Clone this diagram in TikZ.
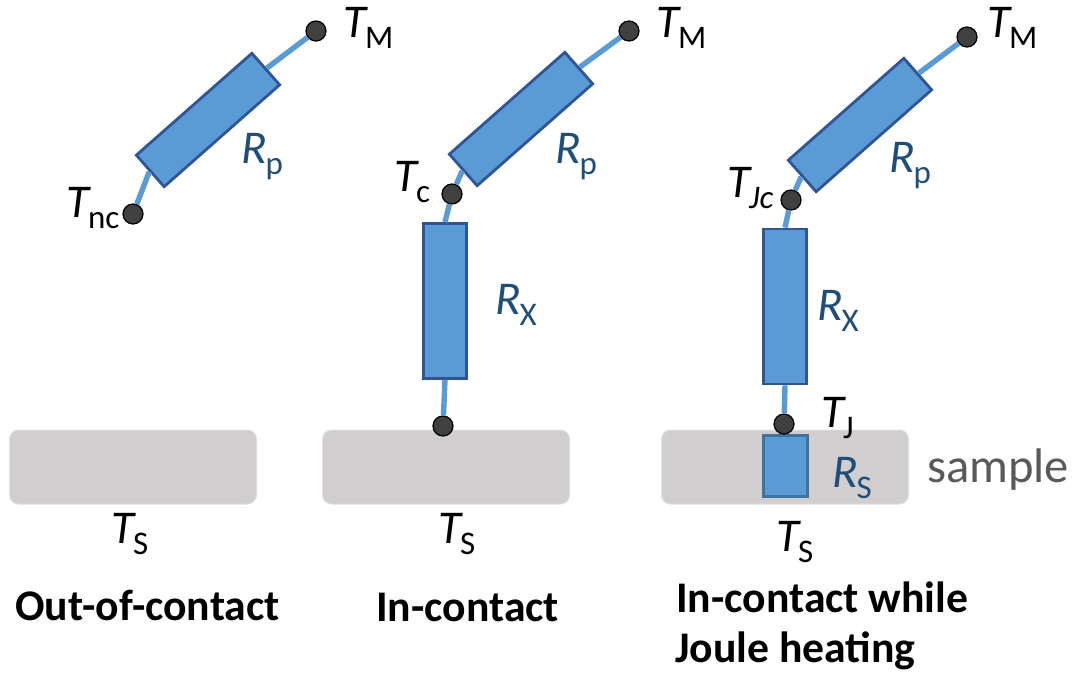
\documentclass[tikz,border=0pt]{standalone}
\usepackage{fontspec}
\setmainfont{Carlito}
\usetikzlibrary{calc}
\definecolor{fillblue}{HTML}{5B9BD5}
\definecolor{edgeblue}{HTML}{2F5597}
\definecolor{edgesteel}{HTML}{41719C}
\definecolor{labelblue}{HTML}{1F4E79}
\definecolor{samplegrey}{HTML}{D0CECE}
\definecolor{samplelabel}{HTML}{595959}
\definecolor{dotgrey}{HTML}{404040}
\newcommand{\qty}[3]{{\fontsize{47}{47}\selectfont\itshape #1}\kern-1pt\raisebox{-11pt}{\fontsize{33}{33}\selectfont #2}}
\tikzset{
  x=1pt,y=-1pt,
  angled/.style={draw=edgeblue,fill=fillblue,line width=2.8pt,minimum width=154pt,minimum height=42pt,rotate=41.4,inner sep=0pt},
  upright/.style={draw=edgeblue,fill=fillblue,line width=2.8pt,minimum width=43pt,minimum height=155pt,inner sep=0pt},
  samplebox/.style={draw=black!12,fill=samplegrey,line width=1pt,rounded corners=9pt,minimum width=247pt,minimum height=74pt,inner sep=0pt},
  spot/.style={circle,draw=black,fill=dotgrey,line width=1.2pt,minimum size=20pt,inner sep=0pt},
  wire/.style={draw=fillblue,line width=5.4pt},
  lab/.style={anchor=base west,inner sep=0pt,text=black},
  rlab/.style={anchor=base west,inner sep=0pt,text=labelblue},
  head/.style={anchor=base west,inner sep=0pt,font=\fontsize{43.7}{44}\selectfont\bfseries},
}
\begin{document}
\begin{tikzpicture}
\useasboundingbox (0,0) rectangle (1076,675);
% samples
\node[samplebox] (s1) at (133,467) {};
\node[samplebox] (s2) at (446,467) {};
\node[samplebox] (s3) at (785,467) {};
% resistors
\node[angled] (p1) at (208,120) {};
\node[angled] (p2) at (521,119) {};
\node[angled] (p3) at (860,125) {};
\node[upright] (x2) at (445,301) {};
\node[upright] (x3) at (785,306.5) {};
\node[draw=edgesteel,fill=fillblue,line width=2.8pt,minimum width=44pt,minimum height=61pt,inner sep=0pt] (rs) at (785.5,466) {};
% spots
\node[spot] (m1) at (316,31) {};
\node[spot] (nc) at (133,214) {};
\node[spot] (m2) at (629,31) {};
\node[spot] (c2) at (452,194) {};
\node[spot] (b2) at (443,426) {};
\node[spot] (m3) at (967,37) {};
\node[spot] (c3) at (791,200) {};
\node[spot] (b3) at (784,424) {};
% wires
\draw[wire] (m1) -- (p1.east);
\draw[wire] (nc) -- (p1.west);
\draw[wire] (m2) -- (p2.east);
\draw[wire] (c2) -- (p2.west);
\draw[wire] (c2) -- (x2.north);
\draw[wire] (b2) -- (x2.south);
\draw[wire] (m3) -- (p3.east);
\draw[wire] (c3) -- (p3.west);
\draw[wire] (c3) -- (x3.north);
\draw[wire] (b3) -- (x3.south);
% labels
\node[lab] (lm1) at (343,37) {\qty{T}{M}{}};
\node[lab] (lm2) at (656,37) {\qty{T}{M}{}};
\node[lab] (lm3) at (987,37) {\qty{T}{M}{}};
\node[lab] (lnc) at (66,217) {\qty{T}{nc}{}};
\node[lab] (lc) at (394,191) {\qty{T}{c}{}};
\node[lab] (ljc) at (727,197) {\qty{T}{\itshape J\normalfont\itshape c}{}};
\node[lab] (lj) at (821,427) {\qty{T}{J}{}};
\node[lab] (ls1) at (111,543) {\qty{T}{S}{}};
\node[lab] (ls2) at (438,543) {\qty{T}{S}{}};
\node[lab] (ls3) at (776,551) {\qty{T}{S}{}};
\node[rlab] (rp1) at (241,163) {\qty{R}{p}{}};
\node[rlab] (rp2) at (555,163) {\qty{R}{p}{}};
\node[rlab] (rp3) at (889,172) {\qty{R}{p}{}};
\node[rlab] (rx2) at (495,314) {\qty{R}{X}{}};
\node[rlab] (rx3) at (817,320) {\qty{R}{X}{}};
\node[rlab] (rs3) at (832,487) {\qty{R}{S}{}};
\node[anchor=base west,inner sep=0pt,text=samplelabel,font=\fontsize{48.6}{49}\selectfont] (smp) at (927,482) {sample};
\node[head] (h1) at (15,620.5) {Out-of-contact};
\node[head] (h2) at (376,621) {In-contact};
\node[head] (h3) at (676,612) {In-contact while};
\node[head] (h4) at (675,662) {Joule heating};
\end{tikzpicture}
\end{document}
